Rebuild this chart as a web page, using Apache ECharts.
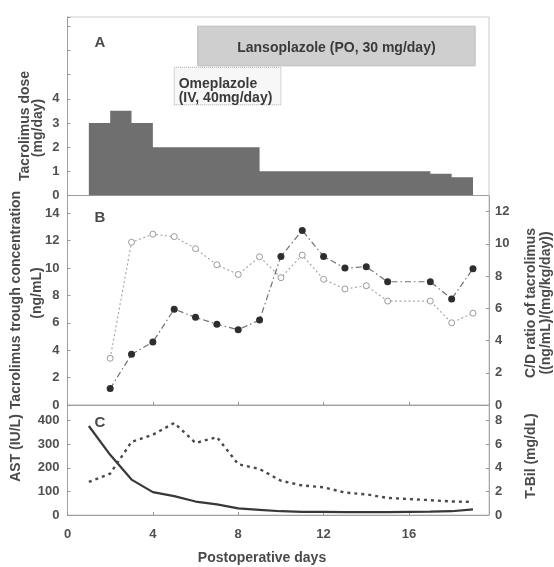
<!DOCTYPE html>
<html>
<head>
<meta charset="utf-8">
<title>Tacrolimus course</title>
<script src="https://cdn.jsdelivr.net/npm/echarts@6.0.0/dist/echarts.min.js"></script>
<style>
  html, body { margin: 0; padding: 0; background: #fff; }
  #chart { width: 554px; height: 567px; }
</style>
</head>
<body>
<div id="chart"></div>
<script>
// A: tacrolimus dose (mg/day), each value held until the next day listed
var doseDays = [1, 2, 3, 4, 9, 17, 18, 19]
var doseValues = [3, 3.5, 3, 2, 1, 0.9, 0.75, 0.75]
// PPI periods [from, to] in postoperative days
var omeplazoleDays = [5, 10]
var lansoplazoleDays = [6.1, 19.1]

// B: trough concentration (ng/mL) and C/D ratio
var levelDays = [2, 3, 4, 5, 6, 7, 8, 9, 10, 11, 12, 13, 14, 15, 17, 18, 19]
var troughConc = [1.2, 3.7, 4.6, 7.0, 6.4, 5.9, 5.5, 6.2, 10.85, 12.75, 10.85, 10.0, 10.1, 9.0, 9.0, 7.75, 9.95]
var cdRatio = [2.9, 10.1, 10.6, 10.45, 9.7, 8.7, 8.1, 9.2, 7.9, 9.3, 7.8, 7.2, 7.4, 6.45, 6.45, 5.1, 5.7]

// C: AST (IU/L) and T-Bil (mg/dL)
var labDays = [1, 2, 3, 4, 5, 6, 7, 8, 9, 10, 11, 12, 13, 14, 15, 16, 17, 18, 19]
var ast = [377, 255, 150, 97, 80, 57, 45, 28, 22, 16, 13, 13, 12, 12, 12, 13, 14, 16, 24]
var tbil = [2.8, 3.5, 6.2, 6.8, 7.8, 6.1, 6.6, 4.3, 3.9, 2.9, 2.5, 2.35, 1.9, 1.75, 1.45, 1.35, 1.25, 1.15, 1.1]

var dayTicks = [0, 4, 8, 12, 16]
var doseTicks = [0, 1, 2, 3, 4]

function pairs (xs, ys) {
    return xs.map(function (x, i) { return [x, ys[i]] })
}

var font = 'Liberation Sans'
var tickFont = { fontFamily: font, fontSize: 13, fontWeight: 'bold', color: '#505050' }
var frameLine = { color: '#9a9a9a', width: 1, type: 'dotted' }

function xAx (grid, withLabels) {
    return {
        type: 'value', gridIndex: grid, min: 0, max: 19.75, interval: 4,
        axisLine: { show: true, onZero: false, lineStyle: frameLine },
        axisTick: { show: grid > 0, inside: true, length: 3, lineStyle: { color: '#999' } },
        axisLabel: Object.assign({
            show: withLabels, margin: 13, showMaxLabel: false,
            formatter: function (v) { return dayTicks.indexOf(v) >= 0 ? v : '' }
        }, tickFont),
        splitLine: { show: false }
    }
}

function yAx (grid, pos, max, step, extra) {
    return Object.assign({
        type: 'value', gridIndex: grid, position: pos, min: 0, max: max, interval: step,
        axisLine: { show: true, lineStyle: frameLine },
        axisTick: { show: true, inside: true, length: 3, lineStyle: { color: '#999' } },
        axisLabel: Object.assign({ margin: pos === 'right' ? 6 : 8, showMaxLabel: false }, tickFont),
        splitLine: { show: false }
    }, extra || {})
}

function label (text, x, y, size, rotate, color) {
    return {
        type: 'text', x: x, y: y, rotation: rotate ? Math.PI / 2 : 0,
        style: {
            text: text, fill: color || '#4a4a4a', align: 'center', verticalAlign: 'middle',
            font: 'bold ' + size + 'px "' + font + '"'
        }
    }
}

var gridBox = { left: 67.5, right: 65, show: true, borderColor: '#cacaca', borderWidth: 1, outerBoundsMode: 'none' }

var option = {
    animation: false,
    grid: [
        Object.assign({ top: 17, height: 178.5 }, gridBox),
        Object.assign({ top: 195.5, height: 209.5 }, gridBox),
        Object.assign({ top: 405, height: 110 }, gridBox)
    ],
    xAxis: [xAx(0, false), xAx(1, false), xAx(2, true)],
    yAxis: [
        yAx(0, 'left', 7.38, 1, {
            axisLabel: Object.assign({
                margin: 8,
                formatter: function (v) { return doseTicks.indexOf(v) >= 0 ? v : '' }
            }, tickFont)
        }),
        yAx(1, 'left', 15.3, 2),
        yAx(1, 'right', 13, 2),
        yAx(2, 'left', 466, 100),
        yAx(2, 'right', 9.32, 2)
    ],
    series: [
        {
            name: 'Tacrolimus dose',
            type: 'line',
            xAxisIndex: 0,
            yAxisIndex: 0,
            step: 'end',
            symbol: 'none',
            lineStyle: { width: 0 },
            areaStyle: { color: '#6f6f6f', opacity: 1 },
            data: pairs(doseDays, doseValues),
            markArea: {
                silent: true,
                data: [
                    [
                        {
                            name: 'Omeplazole\n(IV, 40mg/day)',
                            xAxis: omeplazoleDays[0], yAxis: 3.75,
                            itemStyle: { color: '#f7f7f7', borderColor: '#aaa', borderWidth: 1, borderType: 'dotted' },
                            label: {
                                show: true, position: 'insideLeft', offset: [0, 5],
                                fontFamily: font, fontSize: 14, fontWeight: 'bold', color: '#3a3a3a',
                                lineHeight: 14, align: 'left'
                            }
                        },
                        { xAxis: omeplazoleDays[1], yAxis: 5.3 }
                    ],
                    [
                        {
                            name: 'Lansoplazole (PO, 30 mg/day)',
                            xAxis: lansoplazoleDays[0], yAxis: 5.36,
                            itemStyle: { color: '#cfcfcf', borderColor: '#bdbdbd', borderWidth: 1 },
                            label: {
                                show: true, position: 'inside', offset: [0, 2],
                                fontFamily: font, fontSize: 14, fontWeight: 'bold', color: '#3a3a3a'
                            }
                        },
                        { xAxis: lansoplazoleDays[1], yAxis: 7.0 }
                    ]
                ]
            }
        },
        {
            name: 'C/D ratio',
            type: 'line',
            xAxisIndex: 1,
            yAxisIndex: 2,
            symbol: 'circle',
            symbolSize: 6,
            itemStyle: { color: '#fff', borderColor: '#999', borderWidth: 1 },
            lineStyle: { color: '#a8a8a8', width: 1.2, type: [2, 2.5] },
            data: pairs(levelDays, cdRatio)
        },
        {
            name: 'Trough concentration',
            type: 'line',
            xAxisIndex: 1,
            yAxisIndex: 1,
            symbol: 'circle',
            symbolSize: 7,
            itemStyle: { color: '#2e2e2e' },
            lineStyle: { color: '#707070', width: 1.2, type: [6, 3, 1.5, 3] },
            data: pairs(levelDays, troughConc)
        },
        {
            name: 'AST',
            type: 'line',
            xAxisIndex: 2,
            yAxisIndex: 3,
            symbol: 'none',
            lineStyle: { color: '#383838', width: 2.2 },
            data: pairs(labDays, ast)
        },
        {
            name: 'T-Bil',
            type: 'line',
            xAxisIndex: 2,
            yAxisIndex: 4,
            symbol: 'none',
            lineStyle: { color: '#4a4a4a', width: 2.4, type: [3, 4] },
            data: pairs(labDays, tbil)
        }
    ],
    graphic: [
        label('A', 100, 43, 15),
        label('B', 100, 218, 15),
        label('C', 100, 423, 15),
        label('Tacrolimus (PO)', 176, 178, 14, false, '#2a2a2a'),
        label('Tacrolimus dose', 25, 126, 14, true),
        label('(mg/day)', 38, 128, 14, true),
        label('Tacrolimus trough concentration', 16, 300, 14, true),
        label('(ng/mL)', 37, 293, 14, true),
        label('AST (IU/L)', 16, 448, 14, true),
        label('C/D ratio of tacrolimus', 531, 303, 14, true),
        label('((ng/mL)/(mg/kg/day))', 546, 303, 14, true),
        label('T-Bil (mg/dL)', 531, 456, 14, true),
        label('Postoperative days', 262, 558, 14)
    ]
}

var myChart = echarts.init(document.getElementById('chart'))
myChart.setOption(option)
</script>
</body>
</html>
